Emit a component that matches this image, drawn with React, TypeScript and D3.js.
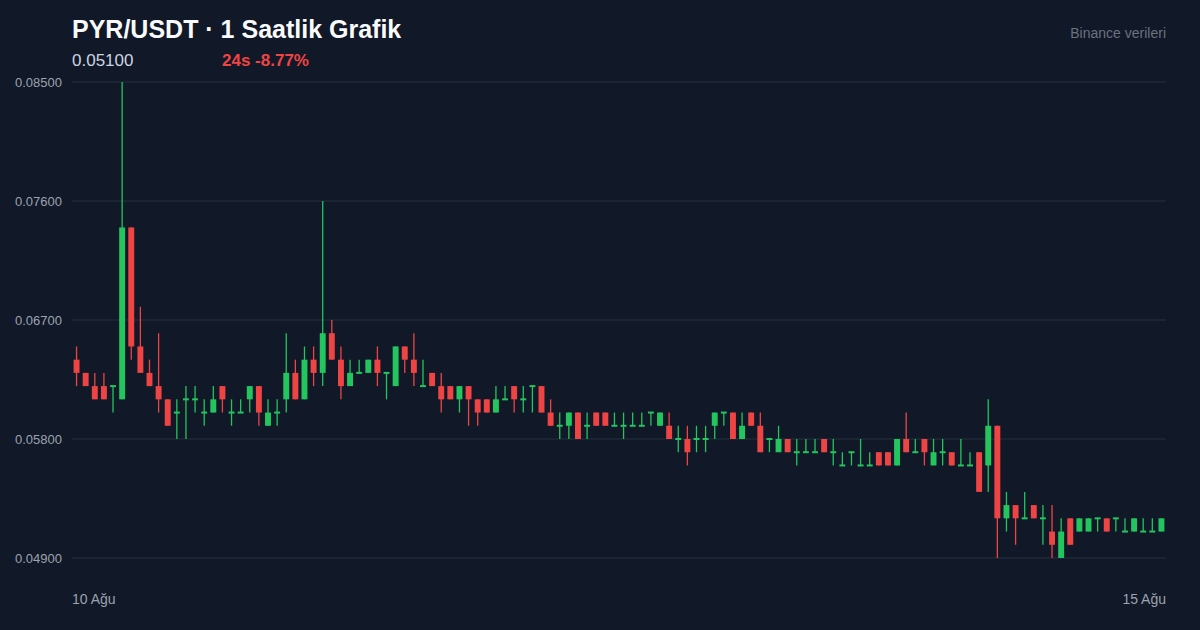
import * as d3 from 'd3';
import React from 'react';

// hourly candles, PYR/USDT
const openPrices = [
  0.064, 0.063, 0.062, 0.062, 0.062, 0.061, 0.074, 0.065, 0.063, 0.062,
  0.061, 0.060, 0.061, 0.061, 0.060, 0.060, 0.062, 0.060, 0.060, 0.061,
  0.062, 0.059, 0.060, 0.061, 0.063, 0.061, 0.064, 0.063, 0.066, 0.064,
  0.062, 0.063, 0.063, 0.064, 0.063, 0.062, 0.065, 0.064, 0.062, 0.063,
  0.062, 0.062, 0.061, 0.062, 0.061, 0.061, 0.060, 0.061, 0.062, 0.061,
  0.062, 0.062, 0.060, 0.059, 0.059, 0.060, 0.059, 0.060, 0.060, 0.059,
  0.059, 0.059, 0.059, 0.060, 0.059, 0.059, 0.058, 0.058, 0.058, 0.058,
  0.059, 0.060, 0.060, 0.058, 0.060, 0.059, 0.058, 0.057, 0.058, 0.057,
  0.057, 0.057, 0.058, 0.057, 0.056, 0.057, 0.056, 0.056, 0.057, 0.057,
  0.056, 0.058, 0.057, 0.058, 0.056, 0.057, 0.057, 0.056, 0.056, 0.057,
  0.056, 0.059, 0.052, 0.053, 0.052, 0.053, 0.052, 0.051, 0.049, 0.052,
  0.051, 0.051, 0.052, 0.052, 0.052, 0.051, 0.051, 0.051, 0.051, 0.051,
];
const highPrices = [
  0.065, 0.063, 0.063, 0.063, 0.062, 0.085, 0.074, 0.068, 0.064, 0.066,
  0.061, 0.061, 0.062, 0.062, 0.061, 0.062, 0.062, 0.061, 0.061, 0.062,
  0.062, 0.061, 0.061, 0.066, 0.064, 0.065, 0.065, 0.076, 0.067, 0.065,
  0.064, 0.064, 0.064, 0.065, 0.063, 0.065, 0.065, 0.066, 0.064, 0.063,
  0.063, 0.062, 0.062, 0.062, 0.061, 0.061, 0.062, 0.062, 0.062, 0.062,
  0.062, 0.062, 0.061, 0.060, 0.060, 0.060, 0.060, 0.060, 0.060, 0.060,
  0.060, 0.060, 0.060, 0.060, 0.060, 0.060, 0.059, 0.059, 0.059, 0.059,
  0.060, 0.060, 0.060, 0.060, 0.060, 0.060, 0.058, 0.059, 0.058, 0.058,
  0.058, 0.058, 0.058, 0.058, 0.057, 0.057, 0.058, 0.057, 0.057, 0.057,
  0.058, 0.060, 0.058, 0.058, 0.058, 0.058, 0.057, 0.058, 0.057, 0.057,
  0.061, 0.059, 0.054, 0.053, 0.054, 0.053, 0.053, 0.053, 0.052, 0.052,
  0.052, 0.052, 0.052, 0.052, 0.052, 0.052, 0.052, 0.052, 0.052, 0.052,
];
const lowPrices = [
  0.062, 0.062, 0.061, 0.061, 0.060, 0.061, 0.064, 0.063, 0.062, 0.060,
  0.059, 0.058, 0.058, 0.060, 0.059, 0.060, 0.060, 0.059, 0.060, 0.060,
  0.059, 0.059, 0.059, 0.060, 0.061, 0.061, 0.062, 0.062, 0.064, 0.061,
  0.062, 0.063, 0.063, 0.062, 0.061, 0.062, 0.063, 0.062, 0.062, 0.062,
  0.060, 0.061, 0.060, 0.059, 0.059, 0.060, 0.060, 0.061, 0.060, 0.060,
  0.060, 0.060, 0.059, 0.058, 0.058, 0.058, 0.058, 0.059, 0.059, 0.059,
  0.058, 0.059, 0.059, 0.059, 0.059, 0.058, 0.057, 0.056, 0.057, 0.057,
  0.058, 0.059, 0.058, 0.058, 0.059, 0.057, 0.057, 0.057, 0.057, 0.056,
  0.057, 0.057, 0.057, 0.056, 0.056, 0.056, 0.056, 0.056, 0.056, 0.056,
  0.056, 0.057, 0.057, 0.056, 0.056, 0.056, 0.056, 0.056, 0.056, 0.054,
  0.054, 0.049, 0.051, 0.050, 0.052, 0.052, 0.050, 0.049, 0.049, 0.050,
  0.051, 0.051, 0.051, 0.051, 0.051, 0.051, 0.051, 0.051, 0.051, 0.051,
];
const closePrices = [
  0.063, 0.062, 0.061, 0.061, 0.062, 0.074, 0.065, 0.063, 0.062, 0.061,
  0.059, 0.060, 0.061, 0.061, 0.060, 0.061, 0.061, 0.060, 0.060, 0.062,
  0.060, 0.060, 0.060, 0.063, 0.061, 0.064, 0.063, 0.066, 0.064, 0.062,
  0.063, 0.063, 0.064, 0.063, 0.063, 0.065, 0.064, 0.063, 0.062, 0.062,
  0.061, 0.061, 0.062, 0.061, 0.060, 0.060, 0.061, 0.061, 0.061, 0.061,
  0.062, 0.060, 0.059, 0.059, 0.060, 0.058, 0.059, 0.059, 0.059, 0.059,
  0.059, 0.059, 0.059, 0.060, 0.060, 0.058, 0.058, 0.057, 0.058, 0.058,
  0.060, 0.060, 0.058, 0.059, 0.059, 0.057, 0.058, 0.058, 0.057, 0.057,
  0.057, 0.057, 0.057, 0.057, 0.056, 0.057, 0.056, 0.056, 0.056, 0.056,
  0.058, 0.057, 0.057, 0.057, 0.057, 0.057, 0.056, 0.056, 0.056, 0.054,
  0.059, 0.052, 0.053, 0.052, 0.052, 0.052, 0.052, 0.050, 0.051, 0.050,
  0.052, 0.052, 0.052, 0.051, 0.052, 0.051, 0.052, 0.051, 0.051, 0.052,
];
const yTicks = [0.049, 0.058, 0.067, 0.076, 0.085];
const xLabels = ['10 Ağu', '15 Ağu'];

const width = 1200;
const height = 630;
const left = 72;
const right = 1166;
const top = 82;
const bottom = 558;

const FONT = '"Liberation Sans", Arial, Helvetica, sans-serif';
const UP = '#22c55e';
const DOWN = '#ef4444';

export default function App() {
  const idx = d3.range(openPrices.length);
  const x = d3.scaleBand<number>().domain(idx).range([left, right]).padding(0);
  const y = d3.scaleLinear().domain([0.049, 0.085]).range([bottom, top]);
  const bw = x.bandwidth() * 0.65;

  return (
    <svg
      width={width}
      height={height}
      style={{ position: 'absolute', left: 0, top: 0, display: 'block' }}
      fontFamily={FONT}
    >
      <rect width={width} height={height} fill="#111827" />

      <text x={72} y={38} fontSize={25} fontWeight={700} fill="#f9fafb">
        PYR/USDT · 1 Saatlik Grafik
      </text>
      <text x={72} y={66} fontSize={17} fill="#cbd5e1">0.05100</text>
      <text x={222} y={66} fontSize={17} fontWeight={700} fill={DOWN}>24s -8.77%</text>
      <text x={1166} y={38} fontSize={14} fill="#6b7280" textAnchor="end">Binance verileri</text>

      {yTicks.map((t) => (
        <g key={t}>
          <line x1={left} x2={right} y1={y(t)} y2={y(t)} stroke="#1f2937" strokeWidth={1.4} />
          <text x={15} y={y(t)} dy="0.35em" fontSize={13} fill="#9ca3af">
            {d3.format('.5f')(t)}
          </text>
        </g>
      ))}

      {idx.map((i) => {
        const o = openPrices[i];
        const c = closePrices[i];
        const color = c >= o ? UP : DOWN;
        const cx = (x(i) ?? 0) + x.bandwidth() / 2;
        const yTop = y(Math.max(o, c));
        const yBot = y(Math.min(o, c));
        const h = Math.max(2, yBot - yTop);
        return (
          <g key={i}>
            <line x1={cx} x2={cx} y1={y(highPrices[i])} y2={y(lowPrices[i])} stroke={color} strokeWidth={1.3} />
            <rect x={cx - bw / 2} y={h === 2 ? yTop - 1 : yTop} width={bw} height={h} fill={color} />
          </g>
        );
      })}

      <text x={72} y={604} fontSize={14} fill="#9ca3af">{xLabels[0]}</text>
      <text x={1166} y={604} fontSize={14} fill="#9ca3af" textAnchor="end">{xLabels[1]}</text>
    </svg>
  );
}
